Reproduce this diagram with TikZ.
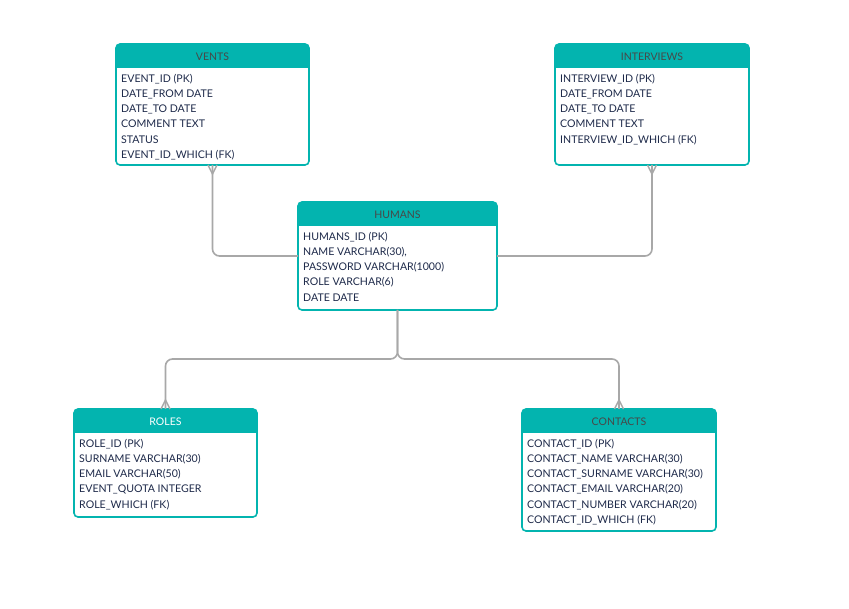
\documentclass[tikz,border=0pt]{standalone}
\usepackage{fontspec}
\setmainfont{Lato}
\usetikzlibrary{calc}
\definecolor{hd}{RGB}{3,180,175}
\definecolor{rowc}{RGB}{30,42,74}
\definecolor{ttl}{RGB}{72,72,72}
\definecolor{lnc}{RGB}{168,168,168}
\tikzset{
  tbl/.style={draw=hd, line width=1.6pt, rounded corners=4pt, inner sep=0pt, outer sep=0pt, anchor=north west},
  ttlnode/.style={font=\fontsize{10.5}{12}\selectfont, inner sep=0pt},
  rows/.style={font=\fontsize{10.6}{15.2}\selectfont, text=rowc, align=left, inner sep=0pt, anchor=north west},
  conn/.style={draw=lnc, line width=1.6pt, rounded corners=7pt},
  crow/.style={draw=lnc, line width=1.4pt}
}
% #1 name, #2 x1, #3 y1, #4 x2, #5 y2, #6 title, #7 title colour, #8 rows
\newcommand\ertable[8]{%
  \fill[hd] (#2,#3+24) [rounded corners=4pt] -- (#2,#3) -- (#4,#3) [sharp corners] -- (#4,#3+24) -- cycle;
  \node[tbl, minimum width={#4pt-#2pt}, minimum height={#5pt-#3pt}] (#1) at (#2,#3) {};
  \node[ttlnode, text=#7] (#1-title) at ({(#2+#4)/2},#3+12.5) {#6};
  \node[rows] (#1-rows) at (#2+5,#3+29.8) {#8};
}
\begin{document}
\begin{tikzpicture}[x=1pt,y=-1pt]
\useasboundingbox (0,0) rectangle (849,609);
\fill[white] (0,0) rectangle (849,609);

\ertable{vents}{116}{44}{309}{165}{VENTS}{ttl}{EVENT\_ID (PK)\\DATE\_FROM DATE\\DATE\_TO DATE\\COMMENT TEXT\\STATUS\\EVENT\_ID\_WHICH (FK)}
\ertable{interviews}{555}{44}{749}{165}{INTERVIEWS}{ttl}{INTERVIEW\_ID (PK)\\DATE\_FROM DATE\\DATE\_TO DATE\\COMMENT TEXT\\INTERVIEW\_ID\_WHICH (FK)}
\ertable{humans}{298}{202}{497}{310}{HUMANS}{ttl}{HUMANS\_ID (PK)\\NAME VARCHAR(30),\\PASSWORD VARCHAR(1000)\\ROLE VARCHAR(6)\\DATE DATE}
\ertable{roles}{74}{409}{257}{517}{ROLES}{white}{ROLE\_ID (PK)\\SURNAME VARCHAR(30)\\EMAIL VARCHAR(50)\\EVENT\_QUOTA INTEGER\\ROLE\_WHICH (FK)}
\ertable{contacts}{522}{409}{716}{531}{CONTACTS}{ttl}{CONTACT\_ID (PK)\\CONTACT\_NAME VARCHAR(30)\\CONTACT\_SURNAME VARCHAR(30)\\CONTACT\_EMAIL VARCHAR(20)\\CONTACT\_NUMBER VARCHAR(20)\\CONTACT\_ID\_WHICH (FK)}

% connectors
\draw[conn] (vents.south) |- (humans.west);
\draw[conn] (interviews.south) |- (humans.east);
\draw[conn] (humans.south) -- ++(0,49) -| (roles.north);
\draw[conn] (humans.south) -- ++(0,49) -| (contacts.north);

% crow's feet
\draw[crow] ([xshift=-4.5pt]vents.south) -- ([yshift=-9pt]vents.south) -- ([xshift=4.5pt]vents.south);
\draw[crow] ([xshift=-4.5pt]interviews.south) -- ([yshift=-9pt]interviews.south) -- ([xshift=4.5pt]interviews.south);
\draw[crow] ([xshift=-4.5pt]roles.north) -- ([yshift=9pt]roles.north) -- ([xshift=4.5pt]roles.north);
\draw[crow] ([xshift=-4.5pt]contacts.north) -- ([yshift=9pt]contacts.north) -- ([xshift=4.5pt]contacts.north);
\end{tikzpicture}
\end{document}
